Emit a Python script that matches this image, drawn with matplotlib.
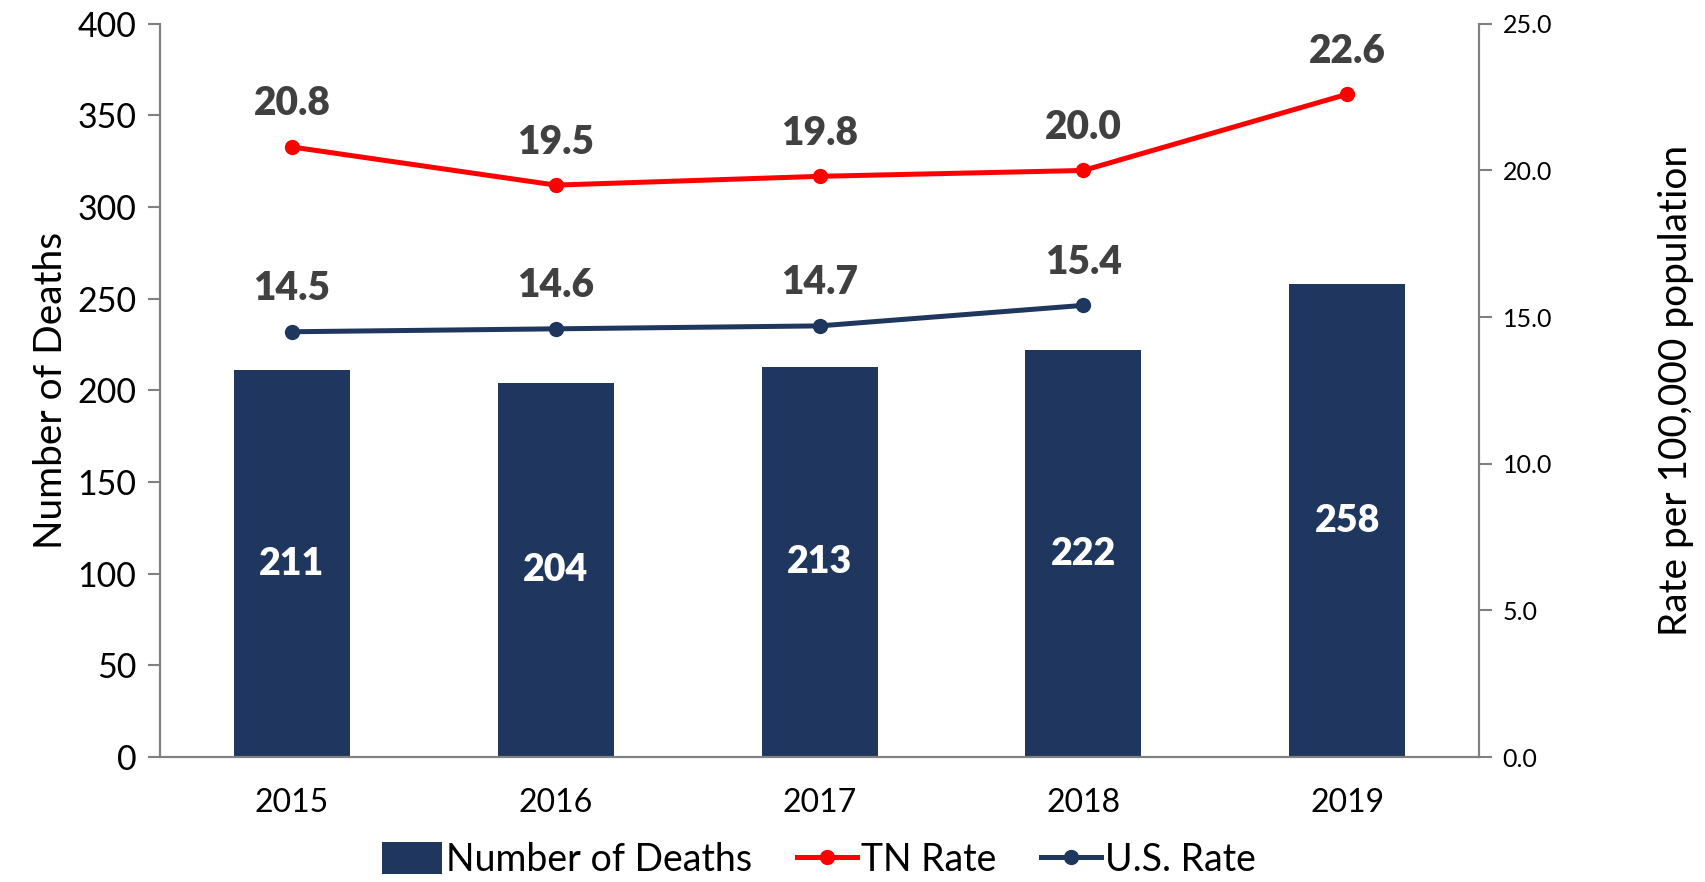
import matplotlib
matplotlib.use("Agg")
import matplotlib.pyplot as plt
from matplotlib.patches import Patch
from matplotlib.lines import Line2D

years = ["2015", "2016", "2017", "2018", "2019"]
deaths = [211, 204, 213, 222, 258]
tn_rate = [20.8, 19.5, 19.8, 20.0, 22.6]
us_years = ["2015", "2016", "2017", "2018"]
us_rate = [14.5, 14.6, 14.7, 15.4]

navy = "#1f375e"
red = "#ff0000"
grey = "#808080"
label_col = "#404040"

plt.rcParams["font.family"] = ["Lato", "DejaVu Sans"]

fig = plt.figure(figsize=(17.06, 8.82), dpi=100)
ax = fig.add_axes([0.0938, 0.1417, 0.867 - 0.0938, 0.973 - 0.1417])
ax2 = ax.twinx()

x = list(range(len(years)))
ax.bar(x, deaths, width=0.44, color=navy, zorder=2)
for xi, v in zip(x, deaths):
    ax.text(xi, v / 2, str(v), ha="center", va="center", color="white",
            fontsize=27, fontweight="heavy")

ax.set_xlim(-0.5, len(years) - 0.5)
ax.set_ylim(0, 400)
ax.set_yticks(range(0, 401, 50))
ax.set_xticks(x)
ax.set_xticklabels(years)
ax.tick_params(axis="y", labelsize=24.5, length=9, width=1.5, color=grey, pad=8)
ax.tick_params(axis="x", labelsize=23, length=0, pad=22)
ax.set_ylabel("Number of Deaths", fontsize=28, labelpad=6)

ax2.set_ylim(0, 25)
ax2.set_yticks([0, 5, 10, 15, 20, 25])
ax2.set_yticklabels([f"{v:.1f}" for v in [0, 5, 10, 15, 20, 25]])
ax2.tick_params(axis="y", labelsize=18, length=9, width=1.5, color=grey, pad=8)
ax2.set_ylabel("Rate per 100,000 population", fontsize=28, labelpad=76)

ax2.plot(x, tn_rate, color=red, lw=3.6, marker="o", ms=10, zorder=3)
ux = [years.index(y) for y in us_years]
ax2.plot(ux, us_rate, color=navy, lw=3.6, marker="o", ms=10, zorder=3)

for xi, v in zip(x, tn_rate):
    ax2.annotate(f"{v:.1f}", (xi, v), xytext=(0, 31), textcoords="offset points",
                 ha="center", va="center", fontsize=28, fontweight="heavy", color=label_col)
for xi, v in zip(ux, us_rate):
    ax2.annotate(f"{v:.1f}", (xi, v), xytext=(0, 31), textcoords="offset points",
                 ha="center", va="center", fontsize=28, fontweight="heavy", color=label_col)

for a in (ax, ax2):
    a.spines["top"].set_visible(False)
    for s in ("left", "right", "bottom"):
        a.spines[s].set_color(grey)
        a.spines[s].set_linewidth(1.5)

handles = [
    Patch(facecolor=navy, label="Number of Deaths"),
    Line2D([0], [0], color=red, lw=3.6, marker="o", ms=10, label="TN Rate"),
    Line2D([0], [0], color=navy, lw=3.6, marker="o", ms=10, label="U.S. Rate"),
]
fig.legend(handles=handles, loc="center", bbox_to_anchor=(0.48, 0.025), ncol=3,
           frameon=False, fontsize=27, handlelength=1.6, handleheight=0.9,
           handletextpad=0.1, columnspacing=1.2)

fig.savefig("out.png", dpi=100)
